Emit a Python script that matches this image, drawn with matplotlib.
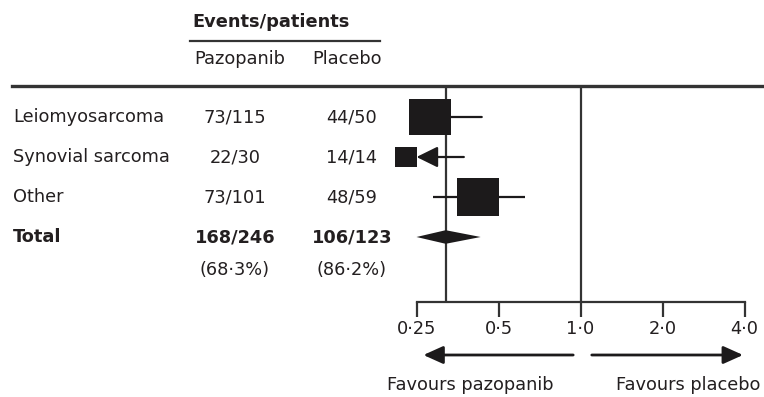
import numpy as np
import matplotlib
matplotlib.use("Agg")
import matplotlib.pyplot as plt
from matplotlib import transforms
from matplotlib.path import Path
from matplotlib.patches import Polygon

# ---- data -------------------------------------------------------------
subtypes = ["Leiomyosarcoma", "Synovial sarcoma", "Other"]
pazopanib_events = [73, 22, 73]
pazopanib_patients = [115, 30, 101]
placebo_events = [44, 14, 48]
placebo_patients = [50, 14, 59]
hazard_ratio = [0.28, 0.228, 0.42]
ci_lower = [0.24, 0.15, 0.288]
ci_upper = [0.434, 0.373, 0.625]
total_hr = 0.32
total_ci_lower = 0.25
total_ci_upper = 0.43
axis_ticks = [0.25, 0.5, 1.0, 2.0, 4.0]
axis_tick_labels = ["0·25", "0·5", "1·0", "2·0", "4·0"]

# ---- style ------------------------------------------------------------
plt.rcParams["font.family"] = ["DejaVu Sans"]
TEXT = "#231f20"
LINE = "#333333"
MARK = "#1c1a1b"
FS = 12.8

W, H = 764, 397
fig = plt.figure(figsize=(W / 100, H / 100), dpi=100)

# forest-plot axes: log2 scale, 82 px per doubling, 1.0 at x=580.5 px
unity_px, px_per_doubling = 580.5, 82.0
left_px, top_px, bottom_px = 12, 86, 302
ax = fig.add_axes([left_px / W, (H - bottom_px) / H,
                   (W - left_px) / W, (bottom_px - top_px) / H])
ax.set_xscale("log", base=2)
ax.set_xlim(2 ** ((left_px - unity_px) / px_per_doubling),
            2 ** ((W - unity_px) / px_per_doubling))
row_px0, row_step = 117.0, 40.0
ax.set_ylim((bottom_px - row_px0) / row_step, (top_px - row_px0) / row_step)

for side in ("left", "right"):
    ax.spines[side].set_visible(False)
ax.spines["top"].set_color(LINE)
ax.spines["top"].set_linewidth(2.4)
ax.spines["bottom"].set_color(LINE)
ax.spines["bottom"].set_linewidth(1.6)
ax.spines["bottom"].set_bounds(axis_ticks[0], axis_ticks[-1])
ax.set_xticks(axis_ticks)
ax.set_xticklabels(axis_tick_labels)
ax.xaxis.set_minor_locator(matplotlib.ticker.NullLocator())
ax.tick_params(axis="x", direction="out", length=11, width=1.6, color=LINE,
               pad=2, labelsize=FS, labelcolor=TEXT)
ax.set_yticks([])

# reference lines: no effect and pooled estimate
ax.axvline(1.0, color=LINE, lw=1.6, zorder=1)
ax.axvline(total_hr, color=LINE, lw=1.6, zorder=1)

# subgroup estimates
rows = np.arange(len(subtypes))
events = np.array(pazopanib_events) + np.array(placebo_events)
box = Path([(-0.56, -0.5), (0.56, -0.5), (0.56, 0.5), (-0.56, 0.5), (-0.56, -0.5)],
           [Path.MOVETO, Path.LINETO, Path.LINETO, Path.LINETO, Path.CLOSEPOLY])
axis_min = axis_ticks[0]
for y, hr, lo, hi, ev in zip(rows, hazard_ratio, ci_lower, ci_upper, events):
    if lo < axis_min:
        ax.annotate("", xy=(axis_min, y), xytext=(hi, y),
                    arrowprops=dict(arrowstyle="-|>,head_length=0.65,head_width=0.32",
                                    mutation_scale=20, color=MARK, lw=1.6,
                                    shrinkA=0, shrinkB=0), zorder=2)
    else:
        ax.plot([lo, hi], [y, y], color=MARK, lw=1.6, zorder=2,
                solid_capstyle="butt")
    ax.plot([hr], [y], marker=box, markersize=0.72 * 3.8 * np.sqrt(ev),
            color=MARK, markeredgewidth=0, zorder=3, clip_on=False)

# pooled estimate diamond
total_row = len(subtypes)
half_h = 0.17
ax.add_patch(Polygon([(total_ci_lower, total_row), (total_hr, total_row - half_h),
                      (total_ci_upper, total_row), (total_hr, total_row + half_h)],
                     closed=True, color=MARK, lw=0, zorder=3))

# ---- table text -------------------------------------------------------
blend = transforms.blended_transform_factory(fig.transFigure, ax.transData)
paz_x, pla_x = 235 / W, 352 / W
for y, name, pe, pn, qe, qn in zip(rows, subtypes, pazopanib_events,
                                   pazopanib_patients, placebo_events, placebo_patients):
    ax.text(13 / W, y, name, transform=blend, ha="left", va="center",
            fontsize=FS, color=TEXT, clip_on=False)
    ax.text(paz_x, y, f"{pe}/{pn}", transform=blend, ha="center", va="center",
            fontsize=FS, color=TEXT, clip_on=False)
    ax.text(pla_x, y, f"{qe}/{qn}", transform=blend, ha="center", va="center",
            fontsize=FS, color=TEXT, clip_on=False)

tot_pe, tot_pn = sum(pazopanib_events), sum(pazopanib_patients)
tot_qe, tot_qn = sum(placebo_events), sum(placebo_patients)


def pct(e, n):
    return f"({100 * e / n:.1f}%)".replace(".", "·")


ax.text(13 / W, total_row, "Total", transform=blend, ha="left", va="center",
        fontsize=FS, fontweight="bold", color=TEXT, clip_on=False)
ax.text(paz_x, total_row, f"{tot_pe}/{tot_pn}", transform=blend, ha="center",
        va="center", fontsize=FS, fontweight="bold", color=TEXT, clip_on=False)
ax.text(pla_x, total_row, f"{tot_qe}/{tot_qn}", transform=blend, ha="center",
        va="center", fontsize=FS, fontweight="bold", color=TEXT, clip_on=False)
ax.text(paz_x, total_row + 0.82, pct(tot_pe, tot_pn), transform=blend, ha="center",
        va="center", fontsize=FS, color=TEXT, clip_on=False)
ax.text(pla_x, total_row + 0.82, pct(tot_qe, tot_qn), transform=blend, ha="center",
        va="center", fontsize=FS, color=TEXT, clip_on=False)

# column headers
fig.text(192 / W, 1 - 22 / H, "Events/patients", ha="left", va="center",
         fontsize=FS, fontweight="bold", color=TEXT)
fig.add_artist(plt.Line2D([190 / W, 380 / W], [1 - 41 / H, 1 - 41 / H],
                          color=LINE, lw=1.6))
fig.text(239.5 / W, 1 - 59 / H, "Pazopanib", ha="center", va="center",
         fontsize=FS, color=TEXT)
fig.text(346.5 / W, 1 - 59 / H, "Placebo", ha="center", va="center",
         fontsize=FS, color=TEXT)

# direction arrows under the axis
arrow_y = (355 - row_px0) / row_step
arrow_kw = dict(arrowstyle="-|>,head_length=0.6,head_width=0.27",
                mutation_scale=20, color=MARK, lw=2.0, shrinkA=0, shrinkB=0)
ax.annotate("", xy=(0.265, arrow_y), xytext=(0.94, arrow_y),
            arrowprops=arrow_kw, annotation_clip=False)
ax.annotate("", xy=(3.95, arrow_y), xytext=(1.10, arrow_y),
            arrowprops=arrow_kw, annotation_clip=False)
label_y = (385 - row_px0) / row_step
ax.text(0.394, label_y, "Favours pazopanib", ha="center", va="center",
        fontsize=FS, color=TEXT, clip_on=False)
ax.text(2.49, label_y, "Favours placebo", ha="center", va="center",
        fontsize=FS, color=TEXT, clip_on=False)

fig.savefig("out.png", dpi=100)
